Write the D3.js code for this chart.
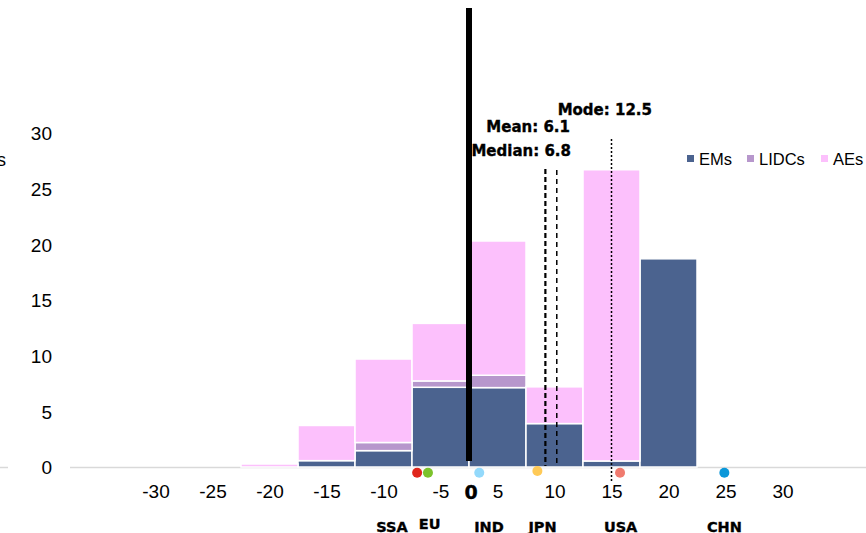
<!DOCTYPE html>
<html>
<head>
<meta charset="utf-8">
<script src="https://cdn.jsdelivr.net/npm/d3@7"></script>
<style>
  html, body { margin: 0; padding: 0; background: #fff; }
  svg { display: block; }
</style>
</head>
<body>
<svg id="chart" width="866" height="533"></svg>
<script>
// ---------------- data ----------------
const binLabels = [-20, -15, -10, -5, 5, 10, 15, 20];   // histogram categories
const emsValues   = [0, 0.57, 1.47, 7.16, 7.13, 3.9, 0.54, 18.7];
const lidcsValues = [0, 0, 0.73, 0.57, 1.11, 0, 0, 0];
const aesValues   = [0.27, 3.16, 7.5, 5.17, 12.06, 3.3, 26.16, 0];

const xTickLabels = [-30, -25, -20, -15, -10, -5, 5, 10, 15, 20, 25, 30];
const yTickValues = [0, 5, 10, 15, 20, 25, 30];

const seriesNames  = ["EMs", "LIDCs", "AEs"];
const seriesColors = ["#4b638f", "#b797cc", "#fcc0fc"];

const statNames  = ["Mean", "Median", "Mode"];
const statValues = [6.1, 6.8, 12.5];
const statLineAt = [6.7, 7.7, 12.5];          // where each marker line sits on the axis

const countries      = ["SSA", "EU", "IND", "JPN", "USA", "CHN"];
const countryAt      = [-4.55, -3.6, 0.9, 6.0, 13.25, 22.4];
const countryLabelAt = [-6.75, -3.45, 1.75, 6.45, 13.3, 22.4];
const countryColors  = ["#e0261c", "#7cc22b", "#93d9fb", "#ffca57", "#f07b6f", "#0b97d9"];

// ---------------- drawing ----------------
const svg = d3.select("#chart");
const x = d3.scaleLinear().domain([-30, 30]).range([127, 811]);
const y = d3.scaleLinear().domain([0, 30]).range([467, 133]);

// bin extent: negative labels cover [L, L+5], positive labels [L-5, L]
const binLo = L => L < 0 ? L : L - 5;
const binHi = L => L < 0 ? L + 5 : L;
const labelPos = L => L < 0 ? L + 2.5 : L - 2.5;

const heavy = sel => sel
  .attr("font-family", "DejaVu Sans, sans-serif").attr("font-weight", "bold")
  .attr("fill", "#000").attr("stroke", "#000").attr("stroke-width", 0.35);

// left cut-off axis title
svg.append("text")
  .attr("x", 6).attr("y", 166)
  .attr("text-anchor", "end")
  .attr("font-family", "Liberation Sans, Arial, sans-serif")
  .attr("font-size", 18)
  .attr("fill", "#000")
  .text("Number of economies");

// baseline
svg.append("line").attr("x1", 0).attr("x2", 8).attr("y1", y(0) + 0.5).attr("y2", y(0) + 0.5)
  .attr("stroke", "#d9d9d9").attr("stroke-width", 1.5);
svg.append("line").attr("x1", 70).attr("x2", 866).attr("y1", y(0) + 0.5).attr("y2", y(0) + 0.5)
  .attr("stroke", "#d9d9d9").attr("stroke-width", 1.5);

// y axis
const yAxis = d3.axisLeft(y).tickValues(yTickValues).tickSize(0).tickPadding(0);
const gy = svg.append("g").attr("transform", "translate(52,0)").call(yAxis);
gy.select(".domain").remove();
gy.selectAll("text")
  .attr("font-family", "Liberation Sans, Arial, sans-serif")
  .attr("font-size", 19).attr("fill", "#000").attr("dy", "0.36em");

// stacked bars
const table = binLabels.map((L, i) => ({ L, EMs: emsValues[i], LIDCs: lidcsValues[i], AEs: aesValues[i] }));
const stack = d3.stack().keys(seriesNames)(table);
const gBars = svg.append("g");
stack.forEach((layer, si) => {
  gBars.selectAll(null).data(layer.filter(d => d[1] - d[0] > 0)).enter().append("rect")
    .attr("x", d => x(binLo(d.data.L)))
    .attr("width", d => x(binHi(d.data.L)) - x(binLo(d.data.L)))
    .attr("y", d => y(d[1]))
    .attr("height", d => y(d[0]) - y(d[1]))
    .attr("fill", seriesColors[si])
    .attr("stroke", "#fff").attr("stroke-width", 1.5);
});

// x axis labels
const xAxis = d3.axisBottom(x).tickValues(xTickLabels.map(labelPos))
  .tickSize(0).tickPadding(0)
  .tickFormat((d, i) => String(xTickLabels[i]));
const gx = svg.append("g").attr("transform", "translate(0,484)").call(xAxis);
gx.select(".domain").remove();
gx.selectAll("text")
  .attr("font-family", "Liberation Sans, Arial, sans-serif")
  .attr("font-size", 19).attr("fill", "#000").attr("dy", "0.71em");

svg.append("text")
  .attr("x", x(0) + 2).attr("y", 498.5)
  .attr("text-anchor", "middle")
  .call(heavy)
  .attr("font-size", 19)
  .text("0");

// zero line
svg.append("line")
  .attr("x1", x(0)).attr("x2", x(0)).attr("y1", 8).attr("y2", 461)
  .attr("stroke", "#000").attr("stroke-width", 6);

// statistic lines
const statStyle = [
  { dash: "5,3", w: 2.2, top: 169, bottom: 466 },
  { dash: "5,4", w: 1.5, top: 170, bottom: 466 },
  { dash: "2,2", w: 1.5, top: 139, bottom: 482 }
];
statNames.forEach((n, i) => {
  svg.append("line")
    .attr("x1", x(statLineAt[i])).attr("x2", x(statLineAt[i]))
    .attr("y1", statStyle[i].top).attr("y2", statStyle[i].bottom)
    .attr("stroke", "#000").attr("stroke-width", statStyle[i].w)
    .attr("stroke-dasharray", statStyle[i].dash);
});
const statLabelPos = [{ x: 570, y: 132 }, { x: 571, y: 156 }, { x: 652, y: 115 }];
statNames.forEach((n, i) => {
  svg.append("text")
    .attr("x", statLabelPos[i].x).attr("y", statLabelPos[i].y)
    .attr("text-anchor", "end")
    .call(heavy)
    .attr("font-size", 15)
    .text(`${n}: ${statValues[i]}`);
});

// country dots + labels
countries.forEach((c, i) => {
  svg.append("circle")
    .attr("cx", x(countryAt[i])).attr("cy", i === 3 ? 471 : 472.7).attr("r", 5)
    .attr("fill", countryColors[i]);
  svg.append("text")
    .attr("x", x(countryLabelAt[i])).attr("y", c === "EU" ? 529 : 531.5)
    .attr("text-anchor", "middle")
    .call(heavy)
    .attr("font-size", 14.5)
    .text(c);
});

// legend
const legX = [687, 747, 821];
seriesNames.forEach((n, i) => {
  svg.append("rect").attr("x", legX[i]).attr("y", 155).attr("width", 7).attr("height", 7)
    .attr("fill", seriesColors[i]);
  svg.append("text").attr("x", legX[i] + 12).attr("y", 165)
    .attr("font-family", "Liberation Sans, Arial, sans-serif")
    .attr("font-size", 16.5).attr("fill", "#000")
    .text(n);
});
</script>
</body>
</html>
